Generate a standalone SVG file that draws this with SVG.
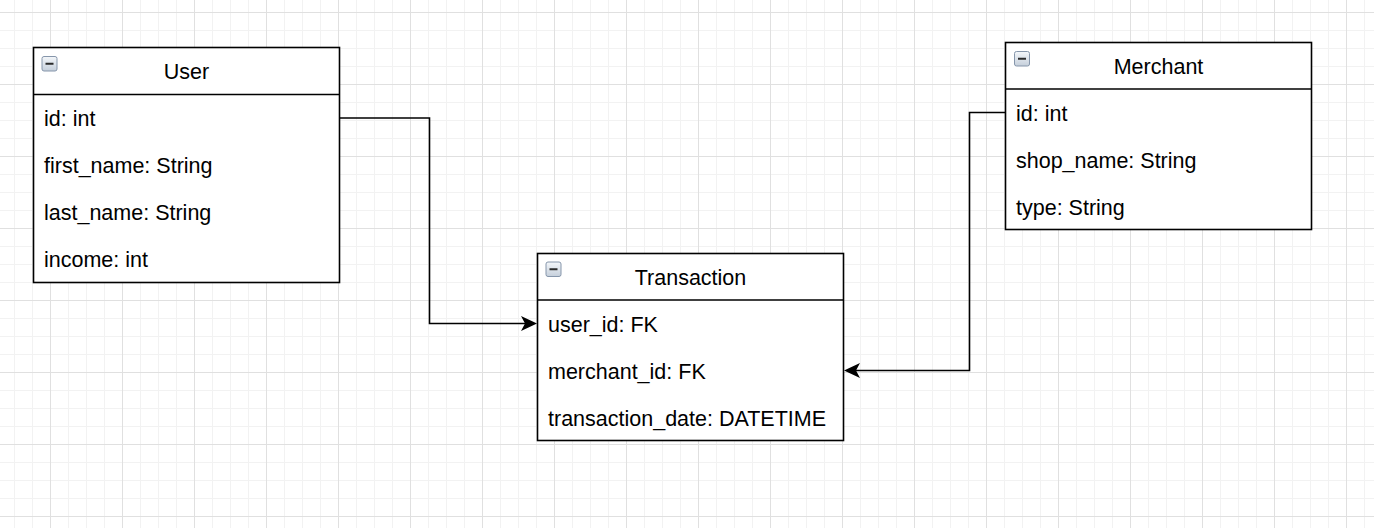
<svg xmlns="http://www.w3.org/2000/svg" width="1374" height="528" viewBox="0 0 1374 528">
  <style>
    .box { fill: #ffffff; stroke: #000000; stroke-width: 1.6; }
    .div { stroke: #000000; stroke-width: 1.6; }
    .title { font-family: "Liberation Sans", Arial, Helvetica, sans-serif; font-size: 21.5px; fill: #000; text-anchor: middle; }
    .row { font-family: "Liberation Sans", Arial, Helvetica, sans-serif; font-size: 21.5px; fill: #000; }
    .edge { fill: none; stroke: #000000; stroke-width: 1.6; }
    .icon { fill: url(#iconGrad); stroke: #8696ab; stroke-width: 1; }
    .minus { stroke: #2a2a2a; stroke-width: 2; }
  </style>
  <defs>
    <pattern id="minor" patternUnits="userSpaceOnUse" x="14" y="12" width="18" height="18">
      <path d="M0.5 0 V18 M0 0.5 H18" stroke="#f2f2f2" stroke-width="1" fill="none"/>
    </pattern>
    <pattern id="major" patternUnits="userSpaceOnUse" x="50" y="12" width="72" height="72">
      <path d="M0.5 0 V72 M0 0.5 H72" stroke="#e0e0e0" stroke-width="1" fill="none"/>
    </pattern>
    <linearGradient id="iconGrad" x1="0" y1="0" x2="0" y2="1">
      <stop offset="0" stop-color="#f4f7fa"/>
      <stop offset="1" stop-color="#c5cfdb"/>
    </linearGradient>
    <marker id="arrow" markerUnits="userSpaceOnUse" viewBox="-5 -8 18 16" markerWidth="18" markerHeight="16" refX="0" refY="0" orient="auto">
      <path d="M12 0 L-4 -7.5 L0 0 L-4 7.5 Z" fill="#000"/>
    </marker>
  </defs>

  <rect width="1374" height="528" fill="#ffffff"/>
  <rect width="1374" height="528" fill="url(#minor)"/>
  <rect width="1374" height="528" fill="url(#major)"/>

  <g id="connectors">
    <path class="edge" d="M339.5 118 H429.5 V323.5 H525" marker-end="url(#arrow)"/>
    <path class="edge" d="M1005.5 112.5 H969.5 V370.5 H856" marker-end="url(#arrow)"/>
  </g>

  <g id="user">
    <rect class="box" x="33.5" y="47.5" width="306" height="235"/>
    <line class="div" x1="33.5" y1="94.5" x2="339.5" y2="94.5"/>
    <rect class="icon" x="42" y="56.5" width="15" height="14.5" rx="2"/>
    <line class="minus" x1="45.5" y1="63.75" x2="53.5" y2="63.75"/>
    <text class="title" x="186.5" y="78.75">User</text>
    <text class="row" x="44" y="126">id: int</text>
    <text class="row" x="44" y="173">first_name: String</text>
    <text class="row" x="44" y="220">last_name: String</text>
    <text class="row" x="44" y="267">income: int</text>
  </g>

  <g id="transaction">
    <rect class="box" x="537.5" y="253.5" width="306" height="187"/>
    <line class="div" x1="537.5" y1="300" x2="843.5" y2="300"/>
    <rect class="icon" x="546" y="262" width="15" height="14.5" rx="2"/>
    <line class="minus" x1="549.5" y1="269.25" x2="557.5" y2="269.25"/>
    <text class="title" x="690.5" y="284.75">Transaction</text>
    <text class="row" x="548" y="331.5">user_id: FK</text>
    <text class="row" x="548" y="378.5">merchant_id: FK</text>
    <text class="row" x="548" y="425.5">transaction_date: DATETIME</text>
  </g>

  <g id="merchant">
    <rect class="box" x="1005.5" y="42.5" width="306" height="187"/>
    <line class="div" x1="1005.5" y1="89" x2="1311.5" y2="89"/>
    <rect class="icon" x="1014.5" y="51.5" width="15" height="14.5" rx="2"/>
    <line class="minus" x1="1018" y1="58.75" x2="1026" y2="58.75"/>
    <text class="title" x="1158.5" y="73.75">Merchant</text>
    <text class="row" x="1016" y="120.5">id: int</text>
    <text class="row" x="1016" y="167.5">shop_name: String</text>
    <text class="row" x="1016" y="214.5">type: String</text>
  </g>
</svg>
